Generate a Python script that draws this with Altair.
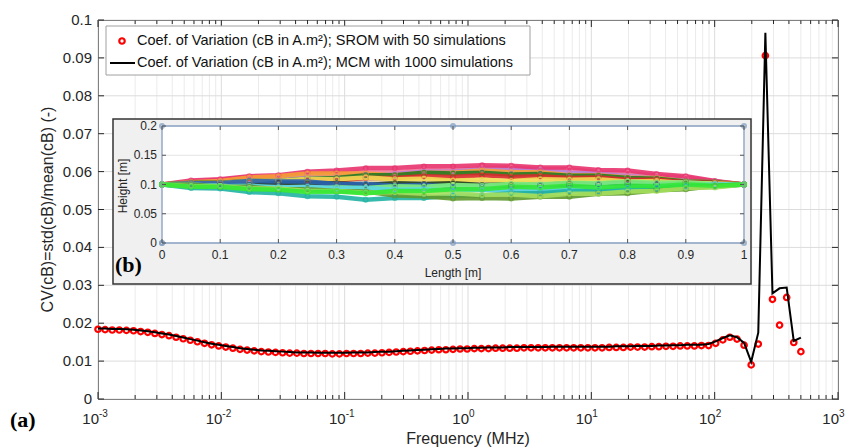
import altair as alt
import pandas as pd

# ---------------- main chart data ----------------
freq = [0.001, 0.001142, 0.001304, 0.001489, 0.001700, 0.001942, 0.002217, 0.002532, 0.002891, 0.003297,
        0.003764, 0.004298, 0.004907, 0.005602, 0.006396, 0.007303, 0.008338, 0.009519, 0.01087, 0.01241,
        0.01417, 0.01618, 0.01847, 0.02109, 0.02408, 0.02749, 0.03138, 0.03583, 0.04091, 0.04671,
        0.05333, 0.06089, 0.06952, 0.07937, 0.09062, 0.1035, 0.1181, 0.1349, 0.1540, 0.1758,
        0.2007, 0.2292, 0.2617, 0.2988, 0.3411, 0.3894, 0.4447, 0.5077, 0.5796, 0.6618,
        0.7556, 0.8627, 0.9849, 1.125, 1.284, 1.466, 1.674, 1.911, 2.182, 2.491,
        2.844, 3.247, 3.707, 4.233, 4.833, 5.518, 6.300, 7.193, 8.212, 9.376,
        10.71, 12.22, 13.95, 15.93, 18.19, 20.77, 23.71, 27.07, 30.91, 35.29,
        40.29, 46.00, 52.52, 59.97, 68.47, 78.17, 89.25, 101.9, 116.4, 132.8,
        151.7, 173.2, 197.7, 225.7, 257.7, 294.2, 335.9, 383.6, 437.9, 500.0]

cv_srom = [0.0184, 0.0183, 0.0182, 0.0182, 0.0181, 0.0180, 0.0178, 0.0176, 0.0173, 0.0170,
           0.0167, 0.0163, 0.0159, 0.0155, 0.0151, 0.0147, 0.0143, 0.0140, 0.0137, 0.0134,
           0.0131, 0.0129, 0.0127, 0.0125, 0.0124, 0.0123, 0.0122, 0.0121, 0.0121, 0.0120,
           0.0120, 0.0120, 0.0120, 0.0119, 0.0119, 0.0120, 0.0120, 0.0120, 0.0121, 0.0121,
           0.0122, 0.0123, 0.0124, 0.0125, 0.0126, 0.0127, 0.0128, 0.0129, 0.0130, 0.0130,
           0.0131, 0.0132, 0.0132, 0.0133, 0.0133, 0.0133, 0.0134, 0.0134, 0.0134, 0.0134,
           0.0135, 0.0135, 0.0135, 0.0135, 0.0135, 0.0135, 0.0135, 0.0135, 0.0135, 0.0135,
           0.0135, 0.0135, 0.0136, 0.0136, 0.0136, 0.0137, 0.0137, 0.0137, 0.0138, 0.0138,
           0.0139, 0.0139, 0.0140, 0.0140, 0.0140, 0.0141, 0.0141, 0.0147, 0.0156, 0.0163,
           0.0158, 0.0142, 0.0090, 0.0145, 0.0906, 0.0263, 0.0195, 0.0268, 0.0149, 0.0125]

cv_mcm = [0.0186, 0.0186, 0.0185, 0.0185, 0.0184, 0.0183, 0.0181, 0.0179, 0.0176, 0.0173,
          0.0170, 0.0166, 0.0162, 0.0158, 0.0154, 0.0150, 0.0146, 0.0143, 0.0140, 0.0137,
          0.0134, 0.0132, 0.0130, 0.0128, 0.0127, 0.0126, 0.0125, 0.0124, 0.0123, 0.0123,
          0.0123, 0.0122, 0.0122, 0.0122, 0.0122, 0.0122, 0.0123, 0.0123, 0.0123, 0.0124,
          0.0125, 0.0125, 0.0126, 0.0127, 0.0128, 0.0129, 0.0130, 0.0131, 0.0132, 0.0133,
          0.0133, 0.0134, 0.0134, 0.0135, 0.0135, 0.0136, 0.0136, 0.0136, 0.0137, 0.0137,
          0.0137, 0.0137, 0.0137, 0.0137, 0.0138, 0.0138, 0.0138, 0.0138, 0.0138, 0.0138,
          0.0138, 0.0138, 0.0138, 0.0139, 0.0139, 0.0139, 0.0140, 0.0140, 0.0140, 0.0141,
          0.0141, 0.0142, 0.0142, 0.0143, 0.0143, 0.0143, 0.0145, 0.0152, 0.0161, 0.0168,
          0.0163, 0.0148, 0.0098, 0.0175, 0.0966, 0.0279, 0.0292, 0.0294, 0.0153, 0.0162]

y_ticks = [0, 0.01, 0.02, 0.03, 0.04, 0.05, 0.06, 0.07, 0.08, 0.09, 0.1]
y_tick_labels = ["0", "0.01", "0.02", "0.03", "0.04", "0.05", "0.06", "0.07", "0.08", "0.09", "0.1"]
x_decades = [0.001, 0.01, 0.1, 1, 10, 100, 1000]
x_exponents = ["-3", "-2", "-1", "0", "1", "2", "3"]
x_minor = [round(m * d, 6) for d in x_decades[:-1] for m in range(2, 10)]

legend_labels = ["Coef. of Variation (cB in A.m\u00b2); SROM with 50 simulations",
                 "Coef. of Variation (cB in A.m\u00b2); MCM with 1000 simulations"]
x_title = "Frequency (MHz)"
y_title = "CV(cB)=std(cB)/mean(cB) (-)"

# ---------------- inset data ----------------
inset_length = [0, 0.05, 0.1, 0.15, 0.2, 0.25, 0.3, 0.35, 0.4, 0.45, 0.5,
                0.55, 0.6, 0.65, 0.7, 0.75, 0.8, 0.85, 0.9, 0.95, 1.0]
p_tan = [0.100, 0.102, 0.104, 0.103, 0.105, 0.104, 0.102, 0.104, 0.106, 0.105, 0.106, 0.104, 0.102, 0.104, 0.106, 0.105, 0.106, 0.103, 0.102, 0.101, 0.100]
p_rose = [0.100, 0.105, 0.108, 0.113, 0.112, 0.117, 0.118, 0.122, 0.121, 0.125, 0.124, 0.128, 0.129, 0.126, 0.126, 0.121, 0.120, 0.115, 0.112, 0.105, 0.100]
p_purple = [0.100, 0.103, 0.104, 0.109, 0.110, 0.114, 0.113, 0.117, 0.118, 0.122, 0.122, 0.126, 0.125, 0.125, 0.120, 0.119, 0.114, 0.112, 0.107, 0.105, 0.100]
p_pink = [0.100, 0.107, 0.109, 0.114, 0.116, 0.122, 0.124, 0.128, 0.128, 0.131, 0.131, 0.133, 0.132, 0.129, 0.129, 0.125, 0.124, 0.118, 0.114, 0.106, 0.100]
p_orange = [0.100, 0.104, 0.106, 0.112, 0.114, 0.119, 0.119, 0.119, 0.116, 0.120, 0.120, 0.124, 0.121, 0.121, 0.116, 0.116, 0.112, 0.111, 0.105, 0.104, 0.100]
p_dkgreen = [0.100, 0.103, 0.103, 0.106, 0.106, 0.110, 0.111, 0.116, 0.116, 0.120, 0.119, 0.120, 0.117, 0.118, 0.115, 0.115, 0.111, 0.110, 0.105, 0.104, 0.100]
p_red = [0.100, 0.102, 0.100, 0.104, 0.104, 0.107, 0.107, 0.111, 0.111, 0.114, 0.113, 0.116, 0.113, 0.114, 0.111, 0.112, 0.108, 0.108, 0.104, 0.103, 0.100]
p_yellow = [0.100, 0.102, 0.102, 0.106, 0.106, 0.110, 0.109, 0.112, 0.109, 0.110, 0.107, 0.108, 0.106, 0.109, 0.108, 0.109, 0.105, 0.106, 0.102, 0.102, 0.100]
p_black = [0.100, 0.098, 0.099, 0.099, 0.103, 0.102, 0.102, 0.099, 0.102, 0.101, 0.102, 0.099, 0.100, 0.099, 0.102, 0.101, 0.104, 0.101, 0.102, 0.099, 0.100]
p_blue = [0.100, 0.102, 0.102, 0.106, 0.105, 0.105, 0.101, 0.101, 0.098, 0.099, 0.096, 0.097, 0.096, 0.099, 0.098, 0.101, 0.100, 0.101, 0.099, 0.101, 0.100]
p_steel = [0.100, 0.097, 0.098, 0.095, 0.096, 0.093, 0.096, 0.092, 0.093, 0.092, 0.095, 0.091, 0.091, 0.088, 0.089, 0.088, 0.091, 0.091, 0.095, 0.096, 0.100]
p_ltgreen = [0.100, 0.098, 0.098, 0.095, 0.095, 0.092, 0.095, 0.094, 0.097, 0.096, 0.099, 0.098, 0.101, 0.100, 0.103, 0.102, 0.105, 0.103, 0.104, 0.101, 0.100]
p_cyan = [0.100, 0.100, 0.097, 0.098, 0.095, 0.096, 0.093, 0.094, 0.091, 0.092, 0.089, 0.091, 0.090, 0.093, 0.092, 0.095, 0.094, 0.097, 0.096, 0.100, 0.100]
p_teal = [0.100, 0.094, 0.093, 0.087, 0.085, 0.080, 0.079, 0.074, 0.077, 0.077, 0.081, 0.081, 0.085, 0.085, 0.089, 0.089, 0.093, 0.093, 0.097, 0.097, 0.100]
p_olive = [0.100, 0.100, 0.096, 0.096, 0.092, 0.092, 0.089, 0.088, 0.081, 0.080, 0.076, 0.077, 0.076, 0.079, 0.079, 0.084, 0.085, 0.090, 0.092, 0.098, 0.100]
p_lime = [0.100, 0.097, 0.097, 0.093, 0.093, 0.089, 0.089, 0.086, 0.087, 0.084, 0.085, 0.082, 0.083, 0.080, 0.084, 0.084, 0.088, 0.089, 0.094, 0.095, 0.100]
p_green = [0.100, 0.096, 0.096, 0.092, 0.091, 0.087, 0.088, 0.085, 0.089, 0.089, 0.092, 0.092, 0.096, 0.095, 0.098, 0.095, 0.098, 0.097, 0.100, 0.098, 0.100]

profile_names = ["tan", "rose", "purple", "pink", "orange", "dkgreen", "red", "yellow", "black",
                 "blue", "steel", "ltgreen", "cyan", "teal", "olive", "lime", "green"]
profile_colors = ["#d9c9a3", "#f07a98", "#b77fd6", "#e8336f", "#f5a033", "#237a23", "#d92a2a", "#f2dc52", "#1f3d1f",
                  "#2a63b0", "#4f93b3", "#7ff27f", "#5cd6e6", "#20b3a3", "#5e9a2c", "#a6e05e", "#33e833"]
profile_values = [p_tan, p_rose, p_purple, p_pink, p_orange, p_dkgreen, p_red, p_yellow, p_black,
                  p_blue, p_steel, p_ltgreen, p_cyan, p_teal, p_olive, p_lime, p_green]

inset_x_ticks = [0, 0.1, 0.2, 0.3, 0.4, 0.5, 0.6, 0.7, 0.8, 0.9, 1]
inset_x_labels = ["0", "0.1", "0.2", "0.3", "0.4", "0.5", "0.6", "0.7", "0.8", "0.9", "1"]
inset_y_ticks = [0, 0.05, 0.1, 0.15, 0.2]
inset_y_labels = ["0", "0.05", "0.1", "0.15", "0.2"]
frame_len = [0, 0.5, 1, 1, 0.5, 0, 0]
frame_h = [0, 0, 0, 0.2, 0.2, 0.2, 0]

# ---------------- tables ----------------
df_main = pd.DataFrame({"f": freq, "srom": cv_srom, "mcm": cv_mcm})
df_yt = pd.DataFrame({"v": y_ticks, "t": y_tick_labels})
df_dec = pd.DataFrame({"v": x_decades, "e": x_exponents})
df_minor = pd.DataFrame({"v": x_minor})
one = pd.DataFrame({"k": [0]})
df_leg1 = pd.DataFrame({"t": [legend_labels[0]]})
df_leg2 = pd.DataFrame({"t": [legend_labels[1]]})
rows = []
for n, vals in zip(profile_names, profile_values):
    for L, h in zip(inset_length, vals):
        rows.append({"name": n, "L": L, "h": h})
df_prof = pd.DataFrame(rows)
df_ixt = pd.DataFrame({"v": inset_x_ticks, "t": inset_x_labels})
df_iyt = pd.DataFrame({"v": inset_y_ticks, "t": inset_y_labels})
df_frame = pd.DataFrame({"L": frame_len, "h": frame_h, "o": list(range(len(frame_len)))})

# ---------------- styling ----------------
W, H = 740, 379
FONT = "Liberation Sans"
AX = "#262626"
GRID = "#dcdcdc"
GRID_MINOR = "#ebebeb"

xs = alt.Scale(type="log", domain=[0.001, 1000], nice=False)
ys = alt.Scale(domain=[0, 0.1], nice=False, zero=False)
XF = alt.X("v:Q", scale=xs, axis=None)
YF = alt.Y("v:Q", scale=ys, axis=None)

# ---------------- main frame layers ----------------
minor_grid = alt.Chart(df_minor).mark_rule(color=GRID_MINOR, strokeWidth=1).encode(x=XF)
major_grid = alt.Chart(df_dec).mark_rule(color=GRID, strokeWidth=1).encode(x=XF)
y_grid = alt.Chart(df_yt).mark_rule(color=GRID, strokeWidth=1).encode(y=YF)
yt_left = alt.Chart(df_yt).mark_rule(color=AX).encode(y=YF, x=alt.value(0), x2=alt.value(6))
yt_right = alt.Chart(df_yt).mark_rule(color=AX).encode(y=YF, x=alt.value(W - 6), x2=alt.value(W))
ylab = alt.Chart(df_yt).mark_text(align="right", baseline="middle", font=FONT, fontSize=15,
                                  color=AX).encode(y=YF, x=alt.value(-6), text="t:N")
xt_bot = alt.Chart(df_dec).mark_rule(color=AX).encode(x=XF, y=alt.value(H - 7), y2=alt.value(H))
xt_top = alt.Chart(df_dec).mark_rule(color=AX).encode(x=XF, y=alt.value(0), y2=alt.value(7))
xm_bot = alt.Chart(df_minor).mark_rule(color=AX).encode(x=XF, y=alt.value(H - 4), y2=alt.value(H))
xm_top = alt.Chart(df_minor).mark_rule(color=AX).encode(x=XF, y=alt.value(0), y2=alt.value(4))
xlab_base = alt.Chart(df_dec).mark_text(align="right", baseline="alphabetic", dx=1, font=FONT,
                                        fontSize=15, color=AX).encode(
    x=XF, y=alt.value(404), text=alt.value("10"))
xlab_exp = alt.Chart(df_dec).mark_text(align="left", baseline="alphabetic", dx=1, font=FONT,
                                       fontSize=10, color=AX).encode(
    x=XF, y=alt.value(397), text="e:N")
xtitle = alt.Chart(one).mark_text(align="center", baseline="alphabetic", font=FONT, fontSize=16,
                                  color=AX).encode(x=alt.value(W / 2), y=alt.value(424),
                                                   text=alt.value(x_title))
ytitle = alt.Chart(one).mark_text(align="center", baseline="middle", angle=270, font=FONT,
                                  fontSize=16, color=AX).encode(x=alt.value(-50), y=alt.value(H / 2),
                                                                text=alt.value(y_title))
a_label = alt.Chart(one).mark_text(align="left", baseline="alphabetic", font="Liberation Serif",
                                   fontWeight="bold", fontSize=22, color="black").encode(
    x=alt.value(-88), y=alt.value(407), text=alt.value("(a)"))

main_under = alt.layer(minor_grid, major_grid, y_grid, yt_left, yt_right, ylab, xt_bot, xt_top,
                       xm_bot, xm_top, xlab_base, xlab_exp, xtitle, ytitle, a_label)

# ---------------- inset layers ----------------
IX0, IX1, IY0, IY1 = 64, 646, 106, 223
ixs = alt.Scale(domain=[0, 1], range=[IX0, IX1], nice=False, zero=False)
iys = alt.Scale(domain=[0, 0.2], range=[IY1, IY0], nice=False, zero=False)
IXF = alt.X("v:Q", scale=ixs, axis=None)
IYF = alt.Y("v:Q", scale=iys, axis=None)
ILX = alt.X("L:Q", scale=ixs, axis=None)
ILY = alt.Y("h:Q", scale=iys, axis=None)

ins_bg = alt.Chart(one).mark_rect(fill="#f0f0f0", stroke="#333333", strokeWidth=1.5).encode(
    x=alt.value(15), x2=alt.value(653), y=alt.value(99), y2=alt.value(264))
ins_plot = alt.Chart(one).mark_rect(fill="white").encode(
    x=alt.value(IX0), x2=alt.value(IX1), y=alt.value(IY0), y2=alt.value(IY1))
ins_vgrid = alt.Chart(df_ixt).mark_rule(color="#e4e4e4").encode(
    x=IXF, y=alt.value(IY0), y2=alt.value(IY1))
ins_hgrid = alt.Chart(df_iyt).mark_rule(color="#e4e4e4").encode(
    y=IYF, x=alt.value(IX0), x2=alt.value(IX1))
ins_xt_b = alt.Chart(df_ixt).mark_rule(color="#555555").encode(
    x=IXF, y=alt.value(IY1 - 4), y2=alt.value(IY1))
ins_xt_t = alt.Chart(df_ixt).mark_rule(color="#555555").encode(
    x=IXF, y=alt.value(IY0), y2=alt.value(IY0 + 4))
ins_yt_l = alt.Chart(df_iyt).mark_rule(color="#555555").encode(
    y=IYF, x=alt.value(IX0), x2=alt.value(IX0 + 4))
ins_yt_r = alt.Chart(df_iyt).mark_rule(color="#555555").encode(
    y=IYF, x=alt.value(IX1 - 4), x2=alt.value(IX1))

pcolor = alt.Color("name:N", scale=alt.Scale(domain=profile_names, range=profile_colors), legend=None)
ins_lines = alt.Chart(df_prof).mark_line(strokeWidth=4.5, strokeCap="round", strokeJoin="round",
                                         opacity=0.9).encode(x=ILX, y=ILY, color=pcolor)
ins_pts = alt.Chart(df_prof).mark_point(filled=False, size=20, strokeWidth=1.5).encode(
    x=ILX, y=ILY, color=pcolor)
ins_frame = alt.Chart(df_frame).mark_line(color="#8ba3c4", strokeWidth=1.3).encode(
    x=ILX, y=ILY, order="o:O")
ins_frame_pts = alt.Chart(df_frame).mark_point(filled=False, color="#7f9cc0", size=16).encode(
    x=ILX, y=ILY)
ins_xlab = alt.Chart(df_ixt).mark_text(align="center", baseline="middle", font=FONT, fontSize=12,
                                       color=AX).encode(x=IXF, y=alt.value(235), text="t:N")
ins_ylab = alt.Chart(df_iyt).mark_text(align="right", baseline="middle", font=FONT, fontSize=12,
                                       color=AX).encode(y=IYF, x=alt.value(IX0 - 5), text="t:N")
ins_xtitle = alt.Chart(one).mark_text(align="center", baseline="middle", font=FONT, fontSize=12,
                                      color=AX).encode(x=alt.value((IX0 + IX1) / 2), y=alt.value(253),
                                                       text=alt.value("Length [m]"))
ins_ytitle = alt.Chart(one).mark_text(align="center", baseline="middle", angle=270, font=FONT,
                                      fontSize=12, color=AX).encode(x=alt.value(25), y=alt.value(166),
                                                                    text=alt.value("Height [m]"))
b_label = alt.Chart(one).mark_text(align="left", baseline="alphabetic", font="Liberation Serif",
                                   fontWeight="bold", fontSize=22, color="black").encode(
    x=alt.value(17), y=alt.value(252), text=alt.value("(b)"))

inset = alt.layer(ins_bg, ins_plot, ins_vgrid, ins_hgrid, ins_lines, ins_pts, ins_frame,
                  ins_frame_pts, ins_xt_b, ins_xt_t, ins_yt_l, ins_yt_r, ins_xlab, ins_ylab,
                  ins_xtitle, ins_ytitle, b_label)

# ---------------- main data + legend ----------------
srom_pts = alt.Chart(df_main).mark_point(shape="circle", filled=False, color="#ff0000", size=30,
                                         strokeWidth=2.2, opacity=1).encode(
    x=alt.X("f:Q", scale=xs, axis=None), y=alt.Y("srom:Q", scale=ys, axis=None))
mcm_line = alt.Chart(df_main).mark_line(color="black", strokeWidth=2).encode(
    x=alt.X("f:Q", scale=xs, axis=None), y=alt.Y("mcm:Q", scale=ys, axis=None))

leg_box = alt.Chart(one).mark_rect(fill="white", stroke="#a0a0a0", strokeWidth=1).encode(
    x=alt.value(8), x2=alt.value(432), y=alt.value(6), y2=alt.value(55))
leg_pt = alt.Chart(one).mark_point(shape="circle", filled=False, color="#ff0000", size=30,
                                   strokeWidth=2.2, opacity=1).encode(x=alt.value(24), y=alt.value(21))
leg_rule = alt.Chart(one).mark_rule(color="black", strokeWidth=2).encode(
    x=alt.value(12), x2=alt.value(37), y=alt.value(43))
leg_t1 = alt.Chart(df_leg1).mark_text(align="left", baseline="middle", font=FONT, fontSize=14.5,
                                      color="#111111").encode(x=alt.value(39), y=alt.value(21), text="t:N")
leg_t2 = alt.Chart(df_leg2).mark_text(align="left", baseline="middle", font=FONT, fontSize=14.5,
                                      color="#111111").encode(x=alt.value(39), y=alt.value(43), text="t:N")

main_over = alt.layer(srom_pts, mcm_line, leg_box, leg_pt, leg_rule, leg_t1, leg_t2)

chart = alt.layer(main_under, inset, main_over).resolve_scale(
    x="independent", y="independent"
).properties(
    width=W, height=H,
    autosize=alt.AutoSizeParams(type="none"),
    padding={"left": 90, "top": 12, "right": 7, "bottom": 49},
).configure_view(stroke=AX, strokeWidth=1)

chart.save("out.html", embed_options={"renderer": "svg", "actions": False})
